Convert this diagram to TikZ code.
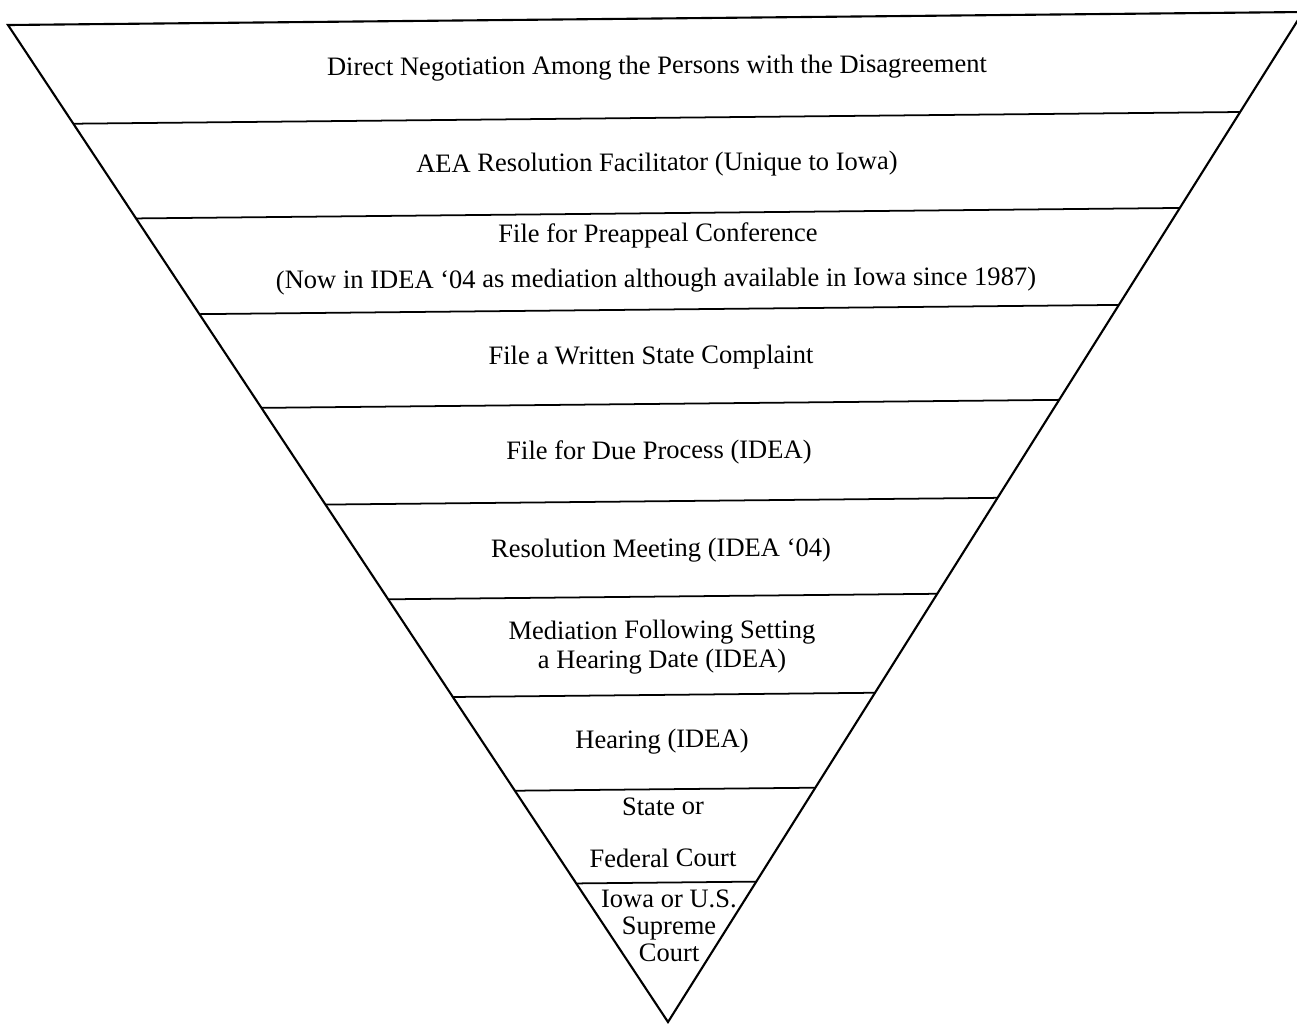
\documentclass[tikz,border=0pt]{standalone}
\usepackage{fontspec}
\setmainfont{Liberation Serif}
\usepackage{tikz}
\usetikzlibrary{calc}

\begin{document}
\begin{tikzpicture}[x=0.01cm, y=-0.01cm,
      every node/.style={font=\fontsize{7.55}{8.3}\selectfont},
      side/.style={line width=0.6pt},
      divider/.style={line width=0.5pt},
      lbl/.style={anchor=base, align=center, inner sep=0pt, rotate=0.3},
      multi/.style={align=center, inner sep=0pt, rotate=0.3}]

    \clip (0, 0) rectangle (1297, 1023);

    % Inverted triangle
    \coordinate (tl) at (8, 25);
    \coordinate (tr) at (1303, 12);
    \coordinate (apex) at (668, 1022);
    \draw[side] (tl) -- (tr) -- (apex) -- cycle;

    % Level dividers
    \foreach \t [count=\i] in {0.099, 0.194, 0.290, 0.384, 0.481,
                               0.576, 0.674, 0.768, 0.861} {
      \coordinate (left\i) at ($(tl)!\t!(apex)$);
      \coordinate (right\i) at ($(tr)!\t!(apex)$);
      \draw[divider] (left\i) -- (right\i);
    }

    % Levels
    \node[lbl] at (657, 74) (negotiation)
      {Direct Negotiation Among the Persons with the Disagreement};
    \node[lbl] at (657, 171) (facilitator)
      {AEA Resolution Facilitator (Unique to Iowa)};
    \node[lbl] at (658, 242) (preappeal) {File for Preappeal Conference};
    \node[lbl] at (656, 287) (preappealnote)
      {(Now in IDEA ‘04 as mediation although available in Iowa since 1987)};
    \node[lbl] at (651, 364) (complaint) {File a Written State Complaint};
    \node[lbl] at (659, 459) (dueprocess) {File for Due Process (IDEA)};
    \node[lbl] at (661, 557) (meeting) {Resolution Meeting (IDEA ‘04)};
    \node[multi] at (662, 647) (mediation)
      {Mediation Following Setting\\a Hearing Date (IDEA)};
    \node[lbl] at (662, 748) (hearing) {Hearing (IDEA)};
    \node[lbl] at (663, 815) (statecourt) {State or};
    \node[lbl] at (663, 867) (federalcourt) {Federal Court};
    \node[multi, font=\fontsize{7.55}{7.7}\selectfont] at (669, 926) (supreme)
      {Iowa or U.S.\\Supreme\\Court};
  \end{tikzpicture}
\end{document}
